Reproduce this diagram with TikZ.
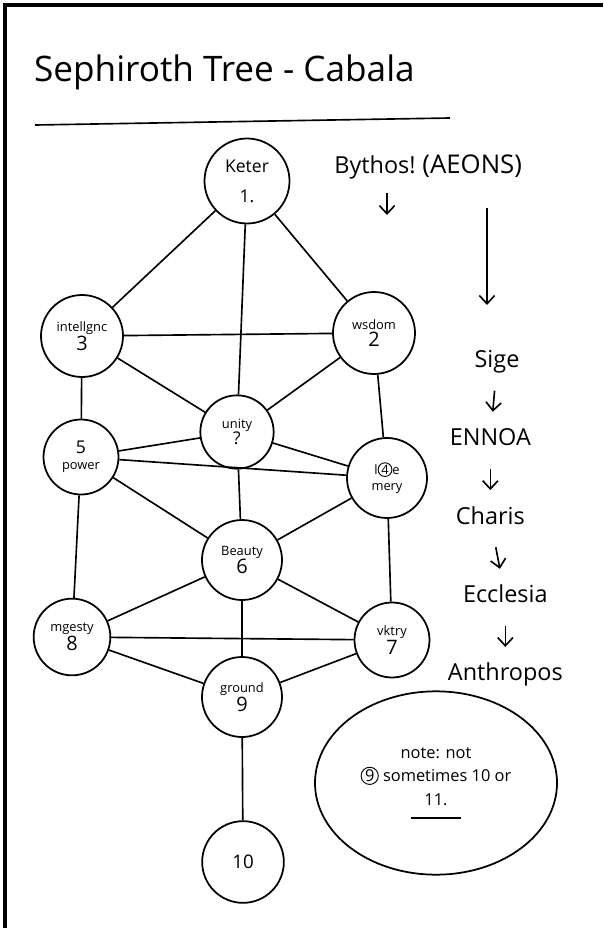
\documentclass[tikz,border=0pt]{standalone}
\usepackage{fontspec}
\setmainfont{Open Sans}
\usetikzlibrary{arrows.meta, positioning, shapes.geometric}
\newcommand{\ringed}[1]{\tikz[baseline=(r.base)]\node[draw, circle, minimum size=0pt, inner sep=0.6pt, line width=0.8pt] (r) {#1};}

\begin{document}
\begin{tikzpicture}[
    x=0.03cm, y=-0.03cm,
    sephira/.style={draw, circle, line width=1.5pt, minimum size=#1, inner sep=1pt, align=center, font=\fontsize{11}{14}\selectfont},
    sephira/.default=2.4cm,
    link/.style={line width=1.4pt},
    arrow/.style={-{Straight Barb[length=7pt, width=13pt]}, line width=1.4pt, shorten <=4pt, shorten >=4pt},
    aeon/.style={font=\fontsize{20}{22}\selectfont, text height=14pt, text depth=5pt, inner sep=2pt},
    node distance=1.53cm
]
    \useasboundingbox (0,0) rectangle (603,928);
    \draw[line width=3pt] (5,928) -- (5,5) -- (603,5);

    % title
    \node[anchor=west, font=\fontsize{30}{32}\selectfont] (title) at (30,72) {Sephiroth Tree - Cabala};
    \draw[link] (35,125) -- (450,118);

    % the tree
    \node[sephira=2.55cm, font=\fontsize{15}{17}\selectfont] (keter) at (247,181) {Keter\\[0.3cm]1.};
    \node[sephira=2.46cm] (intel) at (82,336) {intellgnc\\{\fontsize{17}{17}\selectfont 3}};
    \node[sephira=2.46cm] (wisdom) at (374,333) {wsdom\\{\fontsize{17}{17}\selectfont 2}};
    \node[sephira=2.2cm] (unity) at (237,432) {unity\\{\fontsize{15}{15}\selectfont ?}};
    \node[sephira=2.25cm] (power) at (81,457) {{\fontsize{15}{15}\selectfont 5}\\power};
    \node[sephira=2.4cm] (mercy) at (387,478) {l\ringed{4}e\\mery};
    \node[sephira=2.4cm] (beauty) at (242,560) {Beauty\\{\fontsize{17}{17}\selectfont 6}};
    \node[sephira=2.3cm] (majesty) at (72,637) {mgesty\\{\fontsize{17}{17}\selectfont 8}};
    \node[sephira=2.25cm] (victory) at (392,640) {vktry\\{\fontsize{17}{17}\selectfont 7}};
    \node[sephira=2.4cm] (ground) at (242,697) {ground\\{\fontsize{17}{17}\selectfont 9}};
    \node[sephira=2.45cm, font=\fontsize{16}{17}\selectfont] (ten) at (243,862) {10};

    \draw[link] (keter) -- (intel);
    \draw[link] (keter) -- (wisdom);
    \draw[link] (keter) -- (unity);
    \draw[link] (intel) -- (wisdom);
    \draw[link] (intel) -- (unity);
    \draw[link] (wisdom) -- (unity);
    \draw[link] (intel) -- (power);
    \draw[link] (wisdom) -- (mercy);
    \draw[link] (unity) -- (power);
    \draw[link] (unity) -- (mercy);
    \draw[link] (unity) -- (beauty);
    \draw[link] (power) -- (mercy);
    \draw[link] (power) -- (beauty);
    \draw[link] (mercy) -- (beauty);
    \draw[link] (power) -- (majesty);
    \draw[link] (mercy) -- (victory);
    \draw[link] (beauty) -- (majesty);
    \draw[link] (beauty) -- (victory);
    \draw[link] (beauty) -- (ground);
    \draw[link] (majesty) -- (victory);
    \draw[link] (majesty) -- (ground);
    \draw[link] (victory) -- (ground);
    \draw[link] (ground) -- (ten);

    % aeons
    \node[aeon] (bythos) at (375,168) {Bythos!};
    \node[aeon, font=\fontsize{22}{24}\selectfont, right=0.05cm of bythos] (aeons) {(AEONS)};
    \coordinate (bythosend) at (387,215);
    \draw[arrow, shorten <=0pt, shorten >=0pt] ([yshift=-0.35cm]bythos.south -| bythosend) -- (bythosend);
    \node[aeon] (sige) at (497,362) {Sige};
    \node[aeon, below=of sige, xshift=-0.2cm] (ennoa) {ENNOA};
    \node[aeon, below=of ennoa] (charis) {Charis};
    \node[aeon, below=of charis, xshift=0.45cm] (ecclesia) {Ecclesia};
    \node[aeon, below=of ecclesia] (anthropos) {Anthropos};
    \draw[arrow, shorten <=0.8cm, shorten >=1.3cm] (aeons.south -| 487,0) -- (sige.north -| 487,0);
    \draw[arrow, shorten <=0.45cm, shorten >=0.45cm] (sige) -- (ennoa);
    \draw[arrow, shorten <=0.45cm, shorten >=0.45cm] (ennoa) -- (charis);
    \draw[arrow, shorten <=0.45cm, shorten >=0.45cm] (charis) -- (ecclesia);
    \draw[arrow, shorten <=0.45cm, shorten >=0.45cm] (ecclesia) -- (anthropos);

    % note
    \node[draw, ellipse, line width=1.5pt, minimum width=7.26cm, minimum height=5.5cm] (note) at (436,783) {};
    \node[align=center, font=\fontsize{14}{20}\selectfont] (notetext) at (note.center) {note: not\\\ringed{9} sometimes 10 or\\11.\\[-0.3cm]\rule{1.5cm}{1.3pt}};
\end{tikzpicture}
\end{document}
